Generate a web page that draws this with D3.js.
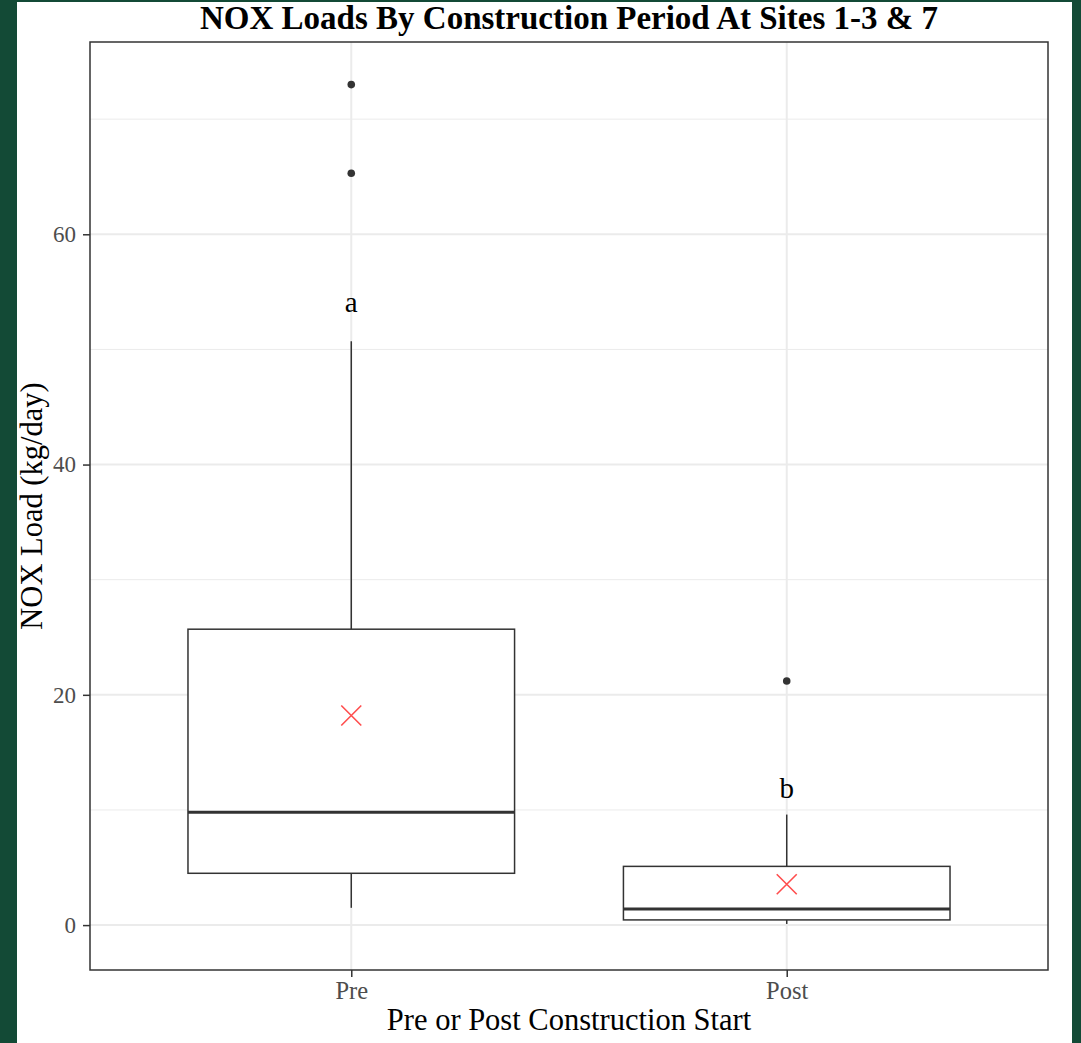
<!DOCTYPE html>
<html>
<head>
<meta charset="utf-8">
<script src="https://cdn.jsdelivr.net/npm/d3@7"></script>
<style>
  html, body { margin: 0; padding: 0; background: #134a36; }
  svg { display: block; }
  text { font-family: "Liberation Serif", "Times New Roman", serif; }
</style>
</head>
<body>
<svg width="1081" height="1043"></svg>
<script>
const groups = ["Pre", "Post"];
const q1 = [4.5, 0.45];
const medians = [9.8, 1.4];
const q3 = [25.7, 5.1];
const whiskerLow = [1.5, 0.1];
const whiskerHigh = [50.7, 9.6];
const means = [18.2, 3.55];
const outliers = [[73.0, 65.3], [21.2]];
const letters = ["a", "b"];
const letterY = [53.25, 11.05];
const yTicks = [0, 20, 40, 60];
const yMinor = [10, 30, 50, 70];

const svg = d3.select("svg");

// white page area inside the green frame
svg.append("rect")
  .attr("x", 17).attr("y", 2)
  .attr("width", 1055).attr("height", 1041)
  .attr("fill", "white");

const panel = { left: 90, top: 42, right: 1048, bottom: 970 };

const y = d3.scaleLinear()
  .domain([-3.9, 76.7])
  .range([panel.bottom, panel.top]);

// discrete axis like ggplot: 0.6 units of padding either side
const unit = (panel.right - panel.left) / 2.2;
const x = d3.scalePoint()
  .domain(groups)
  .range([panel.left + 0.6 * unit, panel.right - 0.6 * unit]);
const boxW = 0.75 * unit;

const g = svg.append("g");

// grid
g.selectAll(".minor")
  .data(yMinor)
  .enter().append("line")
  .attr("x1", panel.left).attr("x2", panel.right)
  .attr("y1", (d) => y(d)).attr("y2", (d) => y(d))
  .attr("stroke", "#ebebeb").attr("stroke-width", 1);

g.selectAll(".major")
  .data(yTicks)
  .enter().append("line")
  .attr("x1", panel.left).attr("x2", panel.right)
  .attr("y1", (d) => y(d)).attr("y2", (d) => y(d))
  .attr("stroke", "#ebebeb").attr("stroke-width", 2);

g.selectAll(".vgrid")
  .data(groups)
  .enter().append("line")
  .attr("x1", (d) => x(d)).attr("x2", (d) => x(d))
  .attr("y1", panel.top).attr("y2", panel.bottom)
  .attr("stroke", "#ebebeb").attr("stroke-width", 2);

// boxes
const boxes = g.selectAll(".box")
  .data(groups)
  .enter().append("g");

boxes.append("line")
  .attr("x1", (d) => x(d)).attr("x2", (d) => x(d))
  .attr("y1", (d, i) => y(q3[i])).attr("y2", (d, i) => y(whiskerHigh[i]))
  .attr("stroke", "#333").attr("stroke-width", 1.5);

boxes.append("line")
  .attr("x1", (d) => x(d)).attr("x2", (d) => x(d))
  .attr("y1", (d, i) => y(q1[i])).attr("y2", (d, i) => y(whiskerLow[i]))
  .attr("stroke", "#333").attr("stroke-width", 1.5);

boxes.append("rect")
  .attr("x", (d) => x(d) - boxW / 2)
  .attr("width", boxW)
  .attr("y", (d, i) => y(q3[i]))
  .attr("height", (d, i) => y(q1[i]) - y(q3[i]))
  .attr("fill", "white")
  .attr("stroke", "#333").attr("stroke-width", 1.5);

boxes.append("line")
  .attr("x1", (d) => x(d) - boxW / 2).attr("x2", (d) => x(d) + boxW / 2)
  .attr("y1", (d, i) => y(medians[i])).attr("y2", (d, i) => y(medians[i]))
  .attr("stroke", "#333").attr("stroke-width", 3);

// outliers
groups.forEach((grp, i) => {
  g.selectAll(".out" + i)
    .data(outliers[i])
    .enter().append("circle")
    .attr("cx", x(grp))
    .attr("cy", (d) => y(d))
    .attr("r", 3.8)
    .attr("fill", "#333");
});

// mean markers
const s = 10;
boxes.append("path")
  .attr("d", (d, i) => {
    const cx = x(d), cy = y(means[i]);
    return `M${cx - s},${cy - s}L${cx + s},${cy + s}M${cx - s},${cy + s}L${cx + s},${cy - s}`;
  })
  .attr("stroke", "#ff4d4d").attr("stroke-width", 1.6).attr("fill", "none");

// significance letters
boxes.append("text")
  .attr("x", (d) => x(d))
  .attr("y", (d, i) => y(letterY[i]))
  .attr("text-anchor", "middle")
  .style("font-size", "29px")
  .attr("fill", "black")
  .text((d, i) => letters[i]);

// panel border
g.append("rect")
  .attr("x", panel.left).attr("y", panel.top)
  .attr("width", panel.right - panel.left)
  .attr("height", panel.bottom - panel.top)
  .attr("fill", "none")
  .attr("stroke", "#333").attr("stroke-width", 1.5);

// axes
const yAxis = svg.append("g")
  .attr("transform", `translate(${panel.left},0)`)
  .call(d3.axisLeft(y).tickValues(yTicks).tickSize(7).tickPadding(7));
yAxis.select(".domain").remove();
yAxis.selectAll("line").attr("stroke", "#333").attr("stroke-width", 1.5);
yAxis.selectAll("text")
  .attr("fill", "#4d4d4d")
  .style("font-size", "23px")
  .style("font-family", "Liberation Serif, serif");

const xAxis = svg.append("g")
  .attr("transform", `translate(0,${panel.bottom})`)
  .call(d3.axisBottom(x).tickSize(7).tickPadding(5));
xAxis.select(".domain").remove();
xAxis.selectAll("line").attr("stroke", "#333").attr("stroke-width", 1.5);
xAxis.selectAll("text")
  .attr("fill", "#4d4d4d")
  .style("font-size", "24.5px")
  .style("font-family", "Liberation Serif, serif");

// titles
svg.append("text")
  .attr("x", (panel.left + panel.right) / 2)
  .attr("y", 29)
  .attr("text-anchor", "middle")
  .style("font-size", "33px")
  .style("font-weight", "bold")
  .text("NOX Loads By Construction Period At Sites 1-3 & 7");

svg.append("text")
  .attr("x", (panel.left + panel.right) / 2)
  .attr("y", 1030)
  .attr("text-anchor", "middle")
  .style("font-size", "30.5px")
  .text("Pre or Post Construction Start");

svg.append("text")
  .attr("transform", `translate(42,${(panel.top + panel.bottom) / 2}) rotate(-90)`)
  .attr("text-anchor", "middle")
  .style("font-size", "30.5px")
  .text("NOX Load (kg/day)");
</script>
</body>
</html>
